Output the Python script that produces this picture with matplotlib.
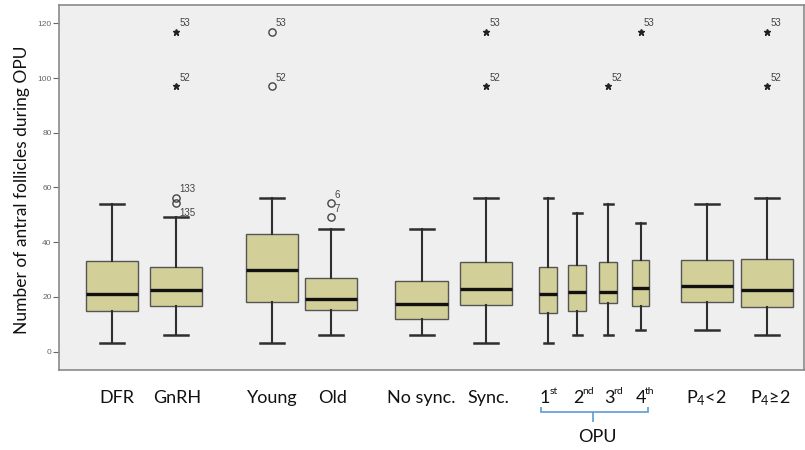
import matplotlib
matplotlib.use("Agg")
import matplotlib.pyplot as plt
from matplotlib.transforms import blended_transform_factory
from matplotlib.path import Path
from matplotlib.patches import PathPatch

plt.rcParams['font.family'] = ['Lato', 'DejaVu Sans']
plt.rcParams['mathtext.fontset'] = 'custom'
plt.rcParams['mathtext.rm'] = 'Lato'
plt.rcParams['mathtext.it'] = 'Lato:italic'
plt.rcParams['mathtext.bf'] = 'Lato:bold'

# ---- data ----
groups = ["DFR", "GnRH", "Young", "Old", "No sync.", "Sync.",
          "1st", "2nd", "3rd", "4th", "P4<2", "P4>=2"]
whisker_low = [3, 6, 3, 6, 6, 3, 3, 6, 6, 8, 8, 6]
q1 = [15, 16.8, 18, 15.1, 11.9, 17, 14.1, 14.8, 17.9, 16.7, 18, 16.3]
median = [21, 22.6, 30, 19.1, 17.6, 22.9, 21, 21.8, 21.9, 23.1, 24.1, 22.6]
q3 = [33, 30.8, 42.9, 27.1, 25.9, 32.8, 30.9, 31.6, 32.8, 33.4, 33.6, 33.8]
whisker_high = [54, 49.1, 56, 45, 45, 56, 56, 50.7, 53.8, 46.9, 54.1, 56.2]

# outliers: (group index, value, case id, kind)
outlier_group = [1, 1, 1, 1, 2, 2, 3, 3, 5, 5, 8, 9, 11, 11]
outlier_value = [117, 97, 56.2, 54.3, 117, 97, 54.2, 49.2, 117, 97, 97, 117, 117, 97]
outlier_id = ["53", "52", "133", "135", "53", "52", "6", "7", "53", "52", "52", "53", "53", "52"]
outlier_kind = ["star", "star", "circle", "circle", "circle", "circle", "circle", "circle",
                "star", "star", "star", "star", "star", "star"]

label_main = ["DFR", "GnRH", "Young", "Old", "No sync.", "Sync.",
              "1", "2", "3", "4", "P$_{4}$<2", "P$_{4}$≥2"]
label_sup = ["", "", "", "", "", "", "st", "nd", "rd", "th", "", ""]
y_ticks = [0, 20, 40, 60, 80, 100, 120]
y_label = "Number of antral follicles during OPU"
bracket_label = "OPU"

# ---- layout (pixel-based x axis) ----
positions = [112, 176, 272, 331, 421.7, 486, 548, 577, 608, 640.5, 707, 767]
widths = [52.5, 52.5, 52.5, 52.5, 52.5, 52.5, 17.7, 17.7, 17.7, 17.7, 52.5, 52.5]
capw = [24, 24, 24, 24, 24, 24, 9, 9, 9, 9, 24, 24]
label_x = [117, 177.5, 272, 333, 421, 488, 545, 578, 609, 640.5, 706.5, 770]

W, H = 805, 450
fig = plt.figure(figsize=(W / 100, H / 100), dpi=100)
ax_left, ax_right, ax_top, ax_bottom = 59.3, 804, 4.7, 370
ax = fig.add_axes([ax_left / W, 1 - ax_bottom / H, (ax_right - ax_left) / W, (ax_bottom - ax_top) / H])
ax.set_facecolor("#efefef")

stats = []
for i in range(len(groups)):
    stats.append(dict(med=median[i], q1=q1[i], q3=q3[i],
                      whislo=whisker_low[i], whishi=whisker_high[i], label=groups[i]))

ax.bxp(stats, positions=positions, widths=widths, capwidths=capw,
       showfliers=False, patch_artist=True, manage_ticks=False,
       boxprops=dict(facecolor="#d3cf98", edgecolor="#555555", linewidth=1.0),
       medianprops=dict(color="#111111", linewidth=2.4),
       whiskerprops=dict(color="#2e2e2e", linewidth=1.5),
       capprops=dict(color="#2e2e2e", linewidth=1.8))

# outliers
for g, v, cid, kind in zip(outlier_group, outlier_value, outlier_id, outlier_kind):
    x = positions[g]
    if kind == "star":
        ax.plot(x, v, marker="*", ms=4.6, color="#222222", mec="#222222", ls="none")
    else:
        ax.plot(x, v, marker="o", ms=5.2, mfc="none", mec="#444444", mew=1.0, ls="none")
    if cid == "135":
        ax.annotate(cid, (x, v), xytext=(2.5, -7), textcoords="offset points",
                    fontsize=7, color="#444444", ha="left", va="center",
                    family=["Liberation Sans"])
    else:
        ax.annotate(cid, (x, v), xytext=(2.5, 2.5), textcoords="offset points",
                    fontsize=7, color="#444444", ha="left", va="bottom",
                    family=["Liberation Sans"])

ax.set_xlim(ax_left, ax_right)
ax.set_ylim(-6.7, 126.8)
ax.set_xticks([])
ax.set_yticks(y_ticks)
ax.set_yticklabels([str(t) for t in y_ticks], fontsize=6, color="#666666",
                   family=["Liberation Sans"])
ax.tick_params(axis="y", length=4, width=0.8, color="#666666", pad=1.5)
for s in ax.spines.values():
    s.set_color("#8a8a8a")
    s.set_linewidth(1.2)

fig.text(22 / W, 1 - 190 / H, y_label, rotation=90, ha="center", va="center",
         fontsize=12.5, color="#111111")

# category labels under the axis
trans = blended_transform_factory(ax.transData, fig.transFigure)
for lx, lab, sup in zip(label_x, label_main, label_sup):
    if sup:
        ax.text(lx, 1 - 403 / H, lab, transform=trans, ha="center", va="baseline",
                fontsize=13, color="#111111", clip_on=False)
        ax.text(lx + 4.5, 1 - 394 / H, sup, transform=trans, ha="left", va="baseline",
                fontsize=7.5, color="#111111", clip_on=False)
    else:
        ax.text(lx, 1 - 403 / H, lab, transform=trans, ha="center", va="baseline",
                fontsize=13, color="#111111", clip_on=False)

# bracket for OPU
yb_top = 1 - 406.5 / H
yb_bot = 1 - 411.5 / H
yb_tick = 1 - 421.5 / H
xl, xr = 540.7, 648.3
xm = 593.3
verts = [(xl, yb_top), (xl, yb_bot), (xr, yb_bot), (xr, yb_top),
         (xm, yb_bot), (xm, yb_tick)]
codes = [Path.MOVETO, Path.LINETO, Path.LINETO, Path.LINETO, Path.MOVETO, Path.LINETO]
ax.add_patch(PathPatch(Path(verts, codes), transform=trans, fill=False,
                       edgecolor="#5b9bd5", linewidth=1.2, clip_on=False))
ax.text(597, 1 - 441.5 / H, bracket_label, transform=trans, ha="center", va="baseline",
        fontsize=13, color="#111111", clip_on=False)

fig.savefig("out.png", dpi=100, facecolor="white")
